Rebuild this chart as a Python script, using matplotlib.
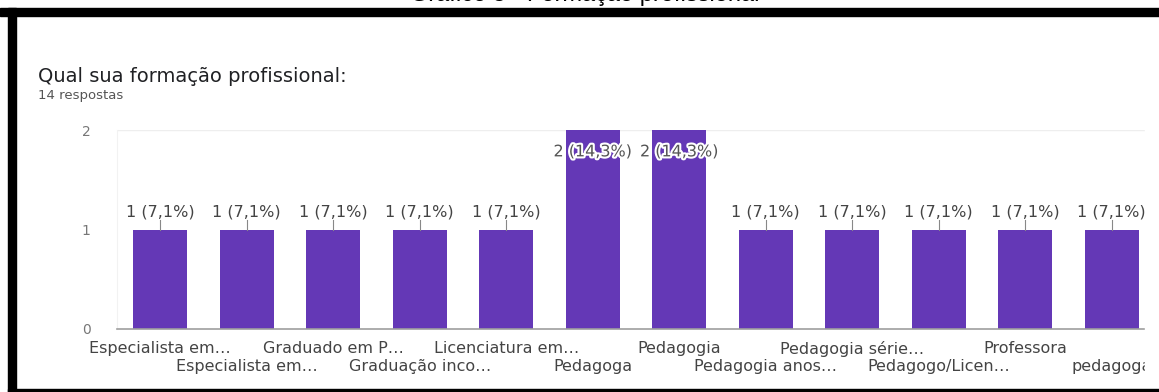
import matplotlib
matplotlib.use("Agg")
import matplotlib.pyplot as plt
import matplotlib.patheffects as pe
from matplotlib.patches import Rectangle
from matplotlib.transforms import blended_transform_factory

plt.rcParams['font.family'] = ['DejaVu Sans']

# Respostas: Qual sua formação profissional? (14 respostas)
categorias = ['Especialista em…', 'Especialista em…', 'Graduado em P…',
              'Graduação inco…', 'Licenciatura em…', 'Pedagoga', 'Pedagogia',
              'Pedagogia anos…', 'Pedagogia série…', 'Pedagogo/Licen…',
              'Professora', 'pedagoga']
contagens = [1, 1, 1, 1, 1, 2, 2, 1, 1, 1, 1, 1]
rotulos = ['1 (7,1%)'] * 5 + ['2 (14,3%)'] * 2 + ['1 (7,1%)'] * 5
total = 14

W, H = 1159, 392
fig = plt.figure(figsize=(W / 100, H / 100), dpi=100)

def fx(px):
    return px / W

def fy(py):
    return 1 - py / H

# legenda do gráfico, cortada no topo
fig.text(fx(585), fy(0.5), 'Gráfico 5 - Formação profissional', ha='center',
         va='baseline', fontsize=17, color='black', family=['Liberation Sans'])

# moldura preta
fig.patches.append(Rectangle((0, fy(16)), 1, fy(8) - fy(16), transform=fig.transFigure,
                             color='black', zorder=5))
fig.patches.append(Rectangle((fx(8), fy(392)), fx(8), fy(8) - fy(392),
                             transform=fig.transFigure, color='black', zorder=5))
fig.patches.append(Rectangle((fx(8), 0), 1, fy(389), transform=fig.transFigure,
                             color='black', zorder=5))

fig.text(fx(38), fy(77), 'Qual sua formação profissional:', fontsize=14,
         color='#202124', va='center', ha='left')
fig.text(fx(38), fy(96), f'{total} respostas', fontsize=9.5, color='#555555',
         va='center', ha='left')

left, right, top, bottom = 117, 1155, 130, 329
ax = fig.add_axes([fx(left), fy(bottom), fx(right - left), fy(top) - fy(bottom)])
x = list(range(len(categorias)))
ax.bar(x, contagens, width=0.62, color='#6438b6', zorder=2)
ax.set_xlim(-0.5, len(categorias) - 0.5)
ax.set_ylim(0, 2)
ax.set_yticks([0, 1, 2])
ax.set_yticklabels(['0', '1', '2'], fontsize=10, color='#777777')
ax.tick_params(axis='y', length=0, pad=19)
ax.set_xticks([])
for s in ['top', 'right']:
    ax.spines[s].set_visible(False)
ax.spines['left'].set_color('#f2f2f2')
ax.spines['bottom'].set_color('#9e9e9e')
ax.spines['bottom'].set_linewidth(1.2)
ax.axhline(2, color='#eeeeee', lw=1, zorder=1)

# rótulos do eixo x em duas linhas alternadas
trans = blended_transform_factory(ax.transData, ax.transAxes)
for i, nome in enumerate(categorias):
    yoff = -0.10 if i % 2 == 0 else -0.19
    ax.text(i, yoff, nome, transform=trans, ha='center', va='center',
            fontsize=11.5, color='#444444', clip_on=False)

# rótulos de valor
halo = [pe.withStroke(linewidth=3, foreground='white')]
for i, (v, r) in enumerate(zip(contagens, rotulos)):
    if v < max(contagens):
        ax.plot([i, i], [v, v + 0.1], color='#888888', lw=0.8, zorder=3)
        ax.text(i, v + 0.18, r, ha='center', va='center', fontsize=11.5,
                color='#444444', zorder=4)
    else:
        ax.text(i, v - 0.22, r, ha='center', va='center', fontsize=11.5,
                color='#555555', zorder=4, path_effects=halo)

# recorte à direita
fig.patches.append(Rectangle((fx(1145), fy(388)), 1, fy(17) - fy(388),
                             transform=fig.transFigure, color='white', zorder=4))

fig.savefig('out.png', dpi=100)
